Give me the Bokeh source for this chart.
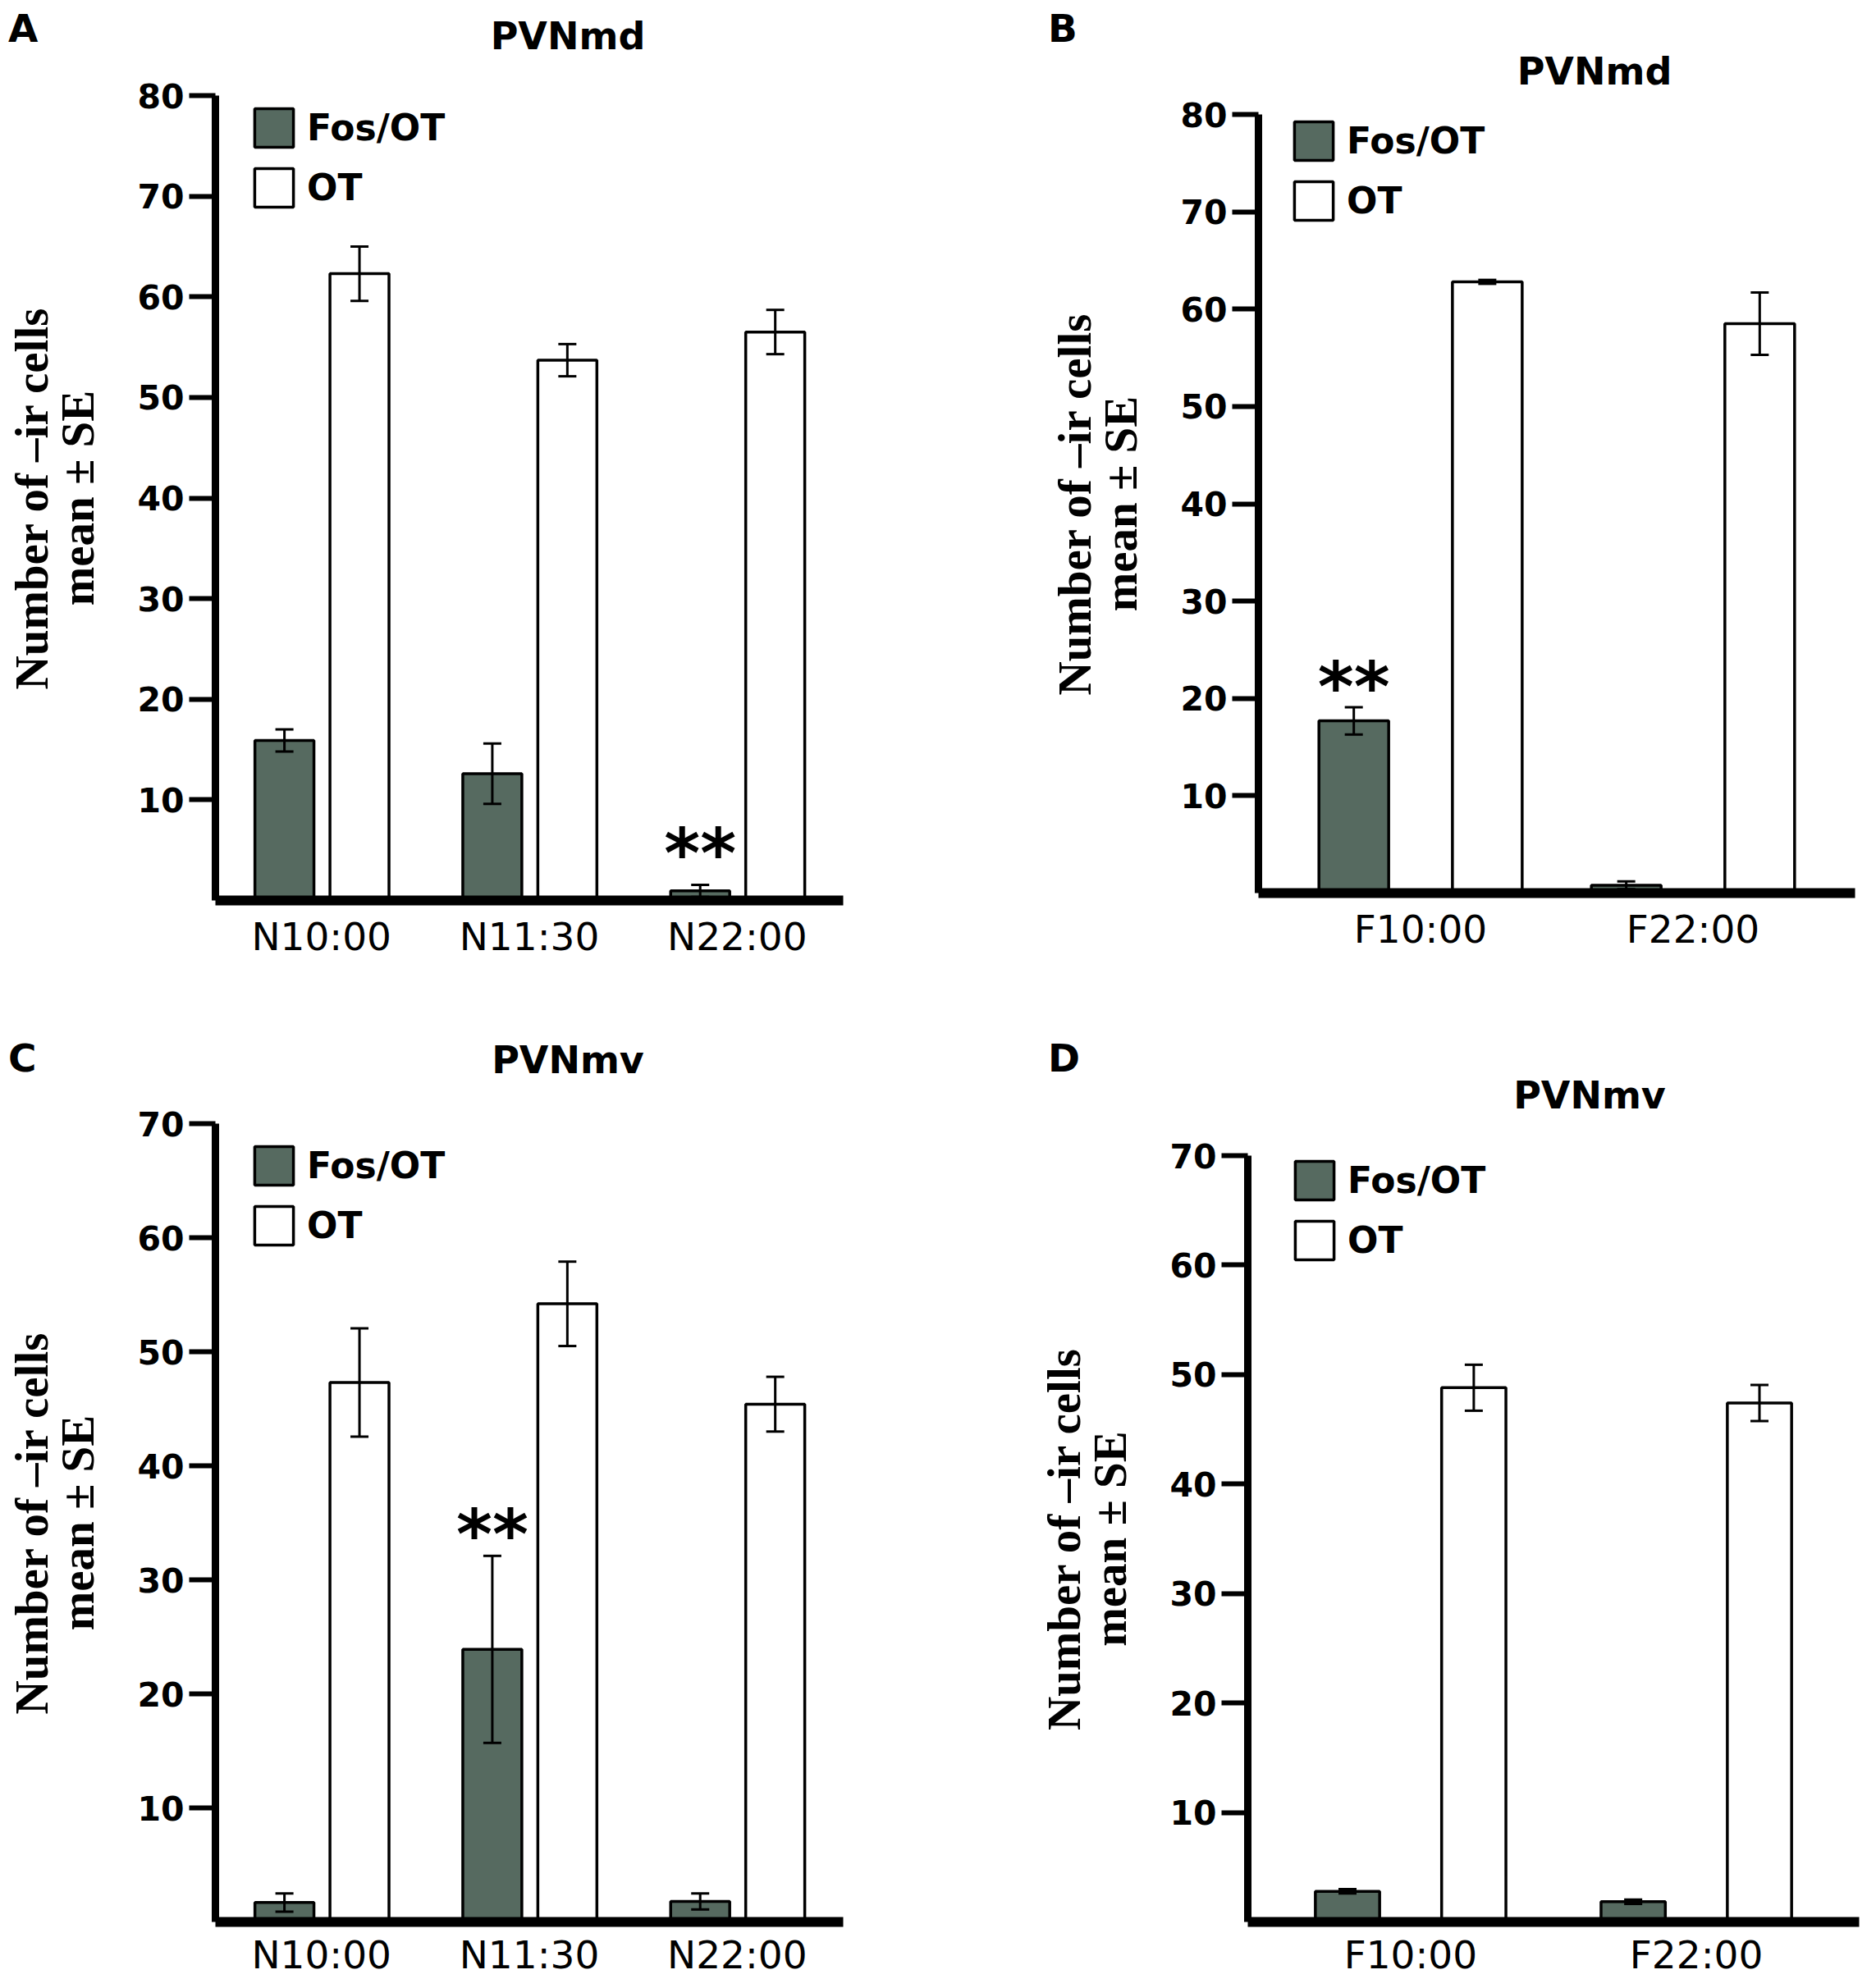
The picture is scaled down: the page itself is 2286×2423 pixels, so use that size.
from bokeh.plotting import figure
from bokeh.models import (ColumnDataSource, FactorRange, Range1d, FixedTicker, Whisker,
                          TeeHead, Legend, LegendItem, Div)
from bokeh.transform import dodge
from bokeh.layouts import column, row
from bokeh.core.properties import value
from bokeh.embed import file_html
from bokeh.resources import INLINE

# ---------------- data ----------------
# Panel A  (PVNmd, N groups)
a_cats = ["N10:00", "N11:30", "N22:00"]
a_fos = [15.9, 12.6, 0.95]
a_fos_se = [1.1, 3.0, 0.6]
a_ot = [62.3, 53.7, 56.5]
a_ot_se = [2.7, 1.6, 2.2]
a_star = ["N22:00"]

# Panel B  (PVNmd, F groups)
b_cats = ["F10:00", "F22:00"]
b_fos = [17.7, 0.8]
b_fos_se = [1.4, 0.4]
b_ot = [62.8, 58.5]
b_ot_se = [0.2, 3.2]
b_star = ["F10:00"]

# Panel C  (PVNmv, N groups)
c_cats = ["N10:00", "N11:30", "N22:00"]
c_fos = [1.7, 23.9, 1.8]
c_fos_se = [0.8, 8.2, 0.7]
c_ot = [47.3, 54.2, 45.4]
c_ot_se = [4.75, 3.7, 2.4]
c_star = ["N11:30"]

# Panel D  (PVNmv, F groups)
d_cats = ["F10:00", "F22:00"]
d_fos = [2.8, 1.85]
d_fos_se = [0.2, 0.2]
d_ot = [48.8, 47.4]
d_ot_se = [2.1, 1.65]
d_star = []

series_labels = ["Fos/OT", "OT"]
y_label = "Number of \u2013ir cells\nmean \u00b1 SE"

FOS_COLOR = "#566a60"
W = 1135


def make_header(letter, title, H):
    html = (
        f'<div style="position:relative;width:{W}px;height:{H["h"]}px;margin:0;padding:0;">'
        f'<div style="position:absolute;left:{H["lx"]}px;top:{H["ly"] - 40}px;width:60px;'
        f"font-family:'DejaVu Sans';font-weight:bold;font-size:47px;line-height:47px;"
        f'white-space:nowrap;color:black;">{letter}</div>'
        f'<div style="position:absolute;left:{H["tx"] - 200}px;top:{H["ty"] - 39}px;'
        f"width:400px;text-align:center;font-family:'DejaVu Sans';font-weight:bold;"
        f'font-size:46px;line-height:46px;white-space:nowrap;color:black;">{title}</div>'
        '</div>')
    return Div(text=html, width=W, height=H["h"], margin=0)


def make_panel(cats, fos, fos_se, ot, ot_se, stars, ymax, L):
    src = ColumnDataSource(dict(
        cat=cats, fos=fos, ot=ot,
        fos_lo=[m - s for m, s in zip(fos, fos_se)],
        fos_hi=[m + s for m, s in zip(fos, fos_se)],
        ot_lo=[m - s for m, s in zip(ot, ot_se)],
        ot_hi=[m + s for m, s in zip(ot, ot_se)],
    ))
    p = figure(x_range=FactorRange(factors=cats, range_padding=L["pad"],
                                   range_padding_units="absolute"),
               y_range=Range1d(0, ymax),
               width=W, height=L["h"], output_backend="svg", toolbar_location=None,
               min_border_left=L["bl"], min_border_right=L["br"],
               min_border_top=L["bt"], min_border_bottom=L["bb"])
    p.outline_line_color = None
    p.grid.visible = False
    p.background_fill_color = "white"
    p.border_fill_color = "white"

    fo, oo, bw = L["fo"], L["oo"], L["bw"]
    r_fos = p.vbar(x=dodge("cat", fo, range=p.x_range), top="fos", width=bw, source=src,
                   fill_color=FOS_COLOR, line_color="black", line_width=3.5)
    r_ot = p.vbar(x=dodge("cat", oo, range=p.x_range), top="ot", width=bw, source=src,
                  fill_color="white", line_color="black", line_width=3.5)

    for key, o in (("fos", fo), ("ot", oo)):
        w = Whisker(source=src, base=dodge("cat", o, range=p.x_range),
                    lower=key + "_lo", upper=key + "_hi", dimension="height",
                    line_width=3, line_color="black", level="overlay")
        w.upper_head = TeeHead(size=22, line_width=3, line_color="black")
        w.lower_head = TeeHead(size=22, line_width=3, line_color="black")
        p.add_layout(w)

    if stars:
        idx = [cats.index(c) for c in stars]
        ssrc = ColumnDataSource(dict(cat=stars, y=[fos[i] + fos_se[i] for i in idx]))
        p.text(x=dodge("cat", fo, range=p.x_range), y="y", text=value("**"), source=ssrc,
               text_font=value("DejaVu Sans"), text_font_style="bold", text_font_size="84px",
               text_align="center", text_baseline="alphabetic", y_offset=L["star_dy"],
               text_color="black")

    # y axis
    ya = p.yaxis[0]
    ya.ticker = FixedTicker(ticks=list(range(10, ymax + 1, 10)))
    ya.axis_line_width = 9
    ya.major_tick_out = 32
    ya.major_tick_in = 0
    ya.major_tick_line_width = 6
    ya.minor_tick_line_color = None
    ya.major_label_standoff = 6
    ya.major_label_text_font = "DejaVu Sans"
    ya.major_label_text_font_style = "bold"
    ya.major_label_text_font_size = "41px"
    ya.major_label_text_color = "black"
    ya.axis_label = y_label
    ya.axis_label_text_font = "Liberation Serif"
    ya.axis_label_text_font_style = "bold"
    ya.axis_label_text_font_size = "57px"
    ya.axis_label_text_line_height = 0.9
    ya.axis_label_text_color = "black"
    ya.axis_label_standoff = 38

    # x axis
    xa = p.xaxis[0]
    xa.axis_line_width = 12
    xa.major_tick_line_color = None
    xa.minor_tick_line_color = None
    xa.major_label_standoff = L["xstand"]
    xa.major_label_text_font = "DejaVu Sans"
    xa.major_label_text_font_style = "normal"
    xa.major_label_text_font_size = "47px"
    xa.major_label_text_color = "black"

    # legend
    fh = L["h"] - L["bt"] - L["bb"]
    gh = 59
    leg_h = gh * 2 + 14
    legend = Legend(items=[LegendItem(label=series_labels[0], renderers=[r_fos]),
                           LegendItem(label=series_labels[1], renderers=[r_ot])],
                    location=(L["lx"] - 6, fh - (L["ly"] - 6) - leg_h),
                    glyph_width=gh, glyph_height=gh, label_height=gh, label_standoff=11,
                    spacing=14, padding=0, margin=0,
                    border_line_alpha=0, background_fill_alpha=0,
                    label_text_font="DejaVu Sans", label_text_font_style="bold",
                    label_text_font_size="44px", label_text_color="black")
    p.add_layout(legend)
    return p


# header layouts (pixels within each header strip; ly/ty are text baselines)
HA = dict(h=87, lx=10, ly=51, tx=692, ty=60)
HB = dict(h=119, lx=142, ly=51, tx=808, ty=103)
HC = dict(h=120, lx=10, ly=95, tx=692, ty=97)
HD = dict(h=160, lx=142, ly=95, tx=802, ty=140)

# panel layouts
LA = dict(h=1124, bl=262, br=108, bt=29, bb=114, pad=0.01, fo=-0.178, oo=0.183, bw=0.284,
          lx=48, ly=16, star_dy=-38, xstand=10)
LB = dict(h=1092, bl=398, br=10, bt=20, bb=123, pad=0.095, fo=-0.245, oo=0.245, bw=0.256,
          lx=44, ly=9, star_dy=-25, xstand=10)
LC = dict(h=1081, bl=262, br=108, bt=38, bb=68, pad=0.01, fo=-0.178, oo=0.183, bw=0.284,
          lx=48, ly=30, star_dy=-26, xstand=6)
LD = dict(h=1041, bl=385, br=5, bt=37, bb=69, pad=0.07, fo=-0.221, oo=0.221, bw=0.225,
          lx=58, ly=8, star_dy=-25, xstand=6)

hA = make_header("A", "PVNmd", HA)
hB = make_header("B", "PVNmd", HB)
hC = make_header("C", "PVNmv", HC)
hD = make_header("D", "PVNmv", HD)

pA = make_panel(a_cats, a_fos, a_fos_se, a_ot, a_ot_se, a_star, 80, LA)
pB = make_panel(b_cats, b_fos, b_fos_se, b_ot, b_ot_se, b_star, 80, LB)
pC = make_panel(c_cats, c_fos, c_fos_se, c_ot, c_ot_se, c_star, 70, LC)
pD = make_panel(d_cats, d_fos, d_fos_se, d_ot, d_ot_se, d_star, 70, LD)

layout = column(
    row(column(hA, pA, spacing=0), column(hB, pB, spacing=0), spacing=0),
    row(column(hC, pC, spacing=0), column(hD, pD, spacing=0), spacing=0),
    spacing=0)

open("out.html", "w").write(file_html(layout, INLINE))
